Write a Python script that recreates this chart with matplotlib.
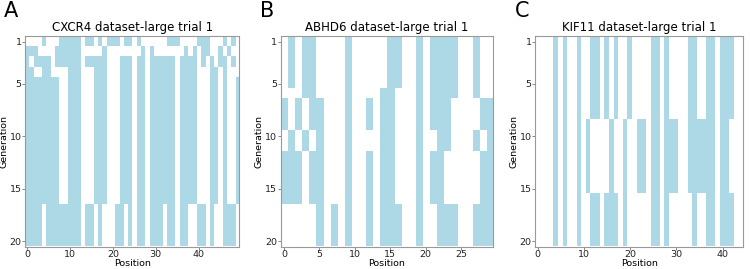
import numpy as np
import matplotlib
matplotlib.use("Agg")
import matplotlib.pyplot as plt
from matplotlib.colors import ListedColormap

# ---------------- data: blue (selected) positions per generation ----------------
cxcr4_n = 50
cxcr4_mid = [0,1,2,3,4,5,6,7,10,11,12,16,17,18,22,23,24,26,27,29,30,31,32,33,34,36,37,38,39,43,44,46,49]
cxcr4_end = [0,1,2,3,5,6,7,8,9,10,11,12,14,15,17,21,22,24,26,27,29,30,31,33,34,36,37,40,41,43,46,47,48]
cxcr4_gens = [
    [4,8,9,10,11,12,14,15,17,19,20,21,23,24,26,33,34,35,40,41,42,46,48],
    [0,1,2,7,8,9,10,11,12,18,27,29,37,39,41,42,45,47],
    [0,2,3,4,5,7,8,9,10,11,12,14,15,16,17,18,22,23,24,26,27,29,30,31,32,33,34,36,37,38,39,41,43,45,46,48],
    [0,1,4,5,10,11,12,16,17,18,22,23,24,26,27,29,30,31,32,33,34,36,37,38,39,43,44,46],
] + [cxcr4_mid] * 12 + [cxcr4_end] * 4

abhd6_n = 30
abhd6_a = [1,3,4,9,15,16,19,21,22,23,24,27]
abhd6_b = [3,4,9,14,15,19,21,22,23,24,27]
abhd6_c = [0,2,4,5,9,12,14,15,19,21,22,23,28,29]
abhd6_d = [1,3,5,9,14,15,19,22,23,27,29]
abhd6_e = [0,1,2,4,5,9,12,14,15,19,21,22,28,29]
abhd6_f = [5,7,9,12,14,15,16,19,22,23,24,27,28,29]
abhd6_gens = [abhd6_a] * 5 + [abhd6_b] + [abhd6_c] * 3 + [abhd6_d] * 2 + [abhd6_e] * 5 + [abhd6_f] * 4

kif11_n = 45
kif11_a = [4,6,9,12,13,15,17,20,25,26,28,33,34,37,38,40,41,42]
kif11_b = [4,6,9,11,16,19,22,23,25,26,28,29,30,33,34,35,36,37,38,40,41]
kif11_c = [4,6,9,12,13,15,16,17,19,25,26,28,34,37,38,40,41,42]
kif11_gens = [kif11_a] * 8 + [kif11_b] * 7 + [kif11_c] * 5

titles = ["CXCR4 dataset-large trial 1", "ABHD6 dataset-large trial 1", "KIF11 dataset-large trial 1"]
letters = ["A", "B", "C"]
ytick_labels = [1, 5, 10, 15, 20]


def to_matrix(gens, n):
    m = np.zeros((len(gens), n))
    for i, cols in enumerate(gens):
        m[i, cols] = 1
    return m


panels = [(cxcr4_gens, cxcr4_n), (abhd6_gens, abhd6_n), (kif11_gens, kif11_n)]

fig = plt.figure(figsize=(7.5, 2.69), dpi=100)
cmap = ListedColormap(["white", "lightblue"])

lefts = [25.2, 280.5, 535.4]
widths = [214.0, 212.5, 208.0]
top_px, bot_px = 36.4, 246.5
for k, ((gens, n), title, letter) in enumerate(zip(panels, titles, letters)):
    ax = fig.add_axes([lefts[k] / 750, 1 - bot_px / 269, widths[k] / 750, (bot_px - top_px) / 269])
    mat = to_matrix(gens, n)
    ax.imshow(mat, cmap=cmap, aspect="auto", interpolation="nearest", vmin=0, vmax=1)
    ax.set_yticks([v - 1 for v in ytick_labels])
    ax.set_yticklabels([str(v) for v in ytick_labels])
    ax.tick_params(labelsize=6.8, length=2, width=0.7, pad=0.6, colors="#222222")
    ax.tick_params(color="#888888")
    ax.set_xlabel("Position", fontsize=6.8, labelpad=0.2)
    ax.set_ylabel("Generation", fontsize=6.8, labelpad=1)
    ax.set_title(title, fontsize=8.5, pad=4)
    for s in ax.spines.values():
        s.set_color("#999999")
    fig.text((lefts[k] - 21) / 750, 0.995, letter, fontsize=15, va="top", ha="left")

fig.savefig("out.png", dpi=100)
